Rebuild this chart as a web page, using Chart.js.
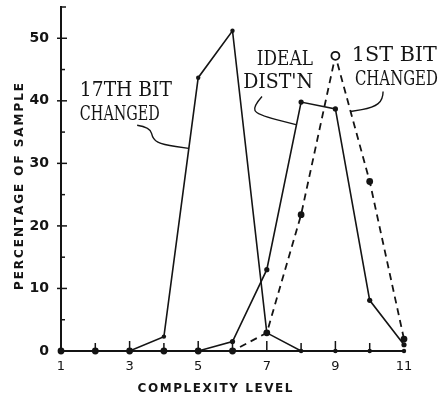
<!DOCTYPE html>
<html><head><meta charset="utf-8">
<script src="https://cdn.jsdelivr.net/npm/chart.js@4"></script>
<style>html,body{margin:0;padding:0;background:#fff;}canvas{display:block;}</style>
</head><body>
<canvas id="c" width="444" height="394"></canvas>
<script>
// ---- data ----
const levels = [1,2,3,4,5,6,7,8,9,10,11];
const bit17Changed = [0,0,0,2.3,43.7,51.2,2.9,0,0,0,0];
const idealDist   = [0,0,0,0,0,1.5,13,39.8,38.7,8.1,1];
const bit1Changed = [0,0,0,0,0,0,2.9,21.8,47.2,27.1,1.9];
const xTickLabels = [1,3,5,7,9,11];
const yTickLabels = [0,10,20,30,40,50];
const xTitle = 'COMPLEXITY LEVEL';
const yTitle = 'PERCENTAGE OF SAMPLE';
const notes = [
  {text:'17TH BIT', at:[1.55,40.7], w:92},
  {text:'CHANGED',  at:[1.55,37.0], w:80},
  {text:'IDEAL',    at:[6.71,45.8], w:56},
  {text:"DIST'N",   at:[6.31,42.1], w:70},
  {text:'1ST BIT',  at:[9.48,46.3], w:85},
  {text:'CHANGED',  at:[9.57,42.6], w:83}
];
const leaders = [
  [[3.22,36.1],[3.6,35.8],[3.68,33.8],[3.97,33.0],[4.72,32.4]],
  [[6.86,40.7],[6.6,39.1],[6.71,37.8],[7.85,36.2]],
  [[10.39,41.5],[10.39,40.2],[10.1,38.9],[9.44,38.3]]
];

const INK = '#141414';
const toPts = arr => levels.map((x,i)=>({x, y:arr[i]}));

const decor = {
  id:'decor',
  afterDatasetsDraw(chart){
    const ctx = chart.ctx, xs = chart.scales.x, ys = chart.scales.y, ca = chart.chartArea;
    const P = (x,y)=>[xs.getPixelForValue(x), ys.getPixelForValue(y)];
    ctx.save();
    ctx.strokeStyle = INK; ctx.fillStyle = INK;
    // y ticks every 5 (inward)
    ctx.lineWidth = 1.5;
    for (let v=5; v<=50; v+=5){
      const y = ys.getPixelForValue(v);
      const major = yTickLabels.includes(v);
      ctx.beginPath();
      ctx.moveTo(ca.left-(major?4:1), y);
      ctx.lineTo(ca.left+(major?6:4), y);
      ctx.stroke();
    }
    // x ticks every integer (upward)
    for (let v=2; v<=10; v++){
      const x = xs.getPixelForValue(v);
      ctx.beginPath();
      ctx.moveTo(x, ca.bottom+1);
      ctx.lineTo(x, ca.bottom-(v%2?10:8));
      ctx.stroke();
    }
    ctx.beginPath(); ctx.moveTo(ca.left-1, ca.top); ctx.lineTo(ca.left+5, ca.top); ctx.stroke();

    // annotations (typewriter-like serif, fitted to width)
    ctx.font = '19px "DejaVu Serif"';
    ctx.textBaseline = 'alphabetic'; ctx.textAlign = 'left';
    notes.forEach(n=>{
      const [x,y] = P(n.at[0], n.at[1]);
      const mw = ctx.measureText(n.text).width;
      ctx.save();
      ctx.translate(x, y);
      ctx.scale(n.w / mw, 1.05);
      ctx.fillText(n.text, 0, 0);
      ctx.restore();
    });
    // leader curves
    ctx.lineWidth = 1.4;
    leaders.forEach(pts=>{
      const p = pts.map(q=>P(q[0],q[1]));
      ctx.beginPath();
      ctx.moveTo(p[0][0], p[0][1]);
      for (let i=1;i<p.length-1;i++){
        const mx=(p[i][0]+p[i+1][0])/2, my=(p[i][1]+p[i+1][1])/2;
        ctx.quadraticCurveTo(p[i][0], p[i][1], mx, my);
      }
      const l = p[p.length-1];
      ctx.lineTo(l[0], l[1]);
      ctx.stroke();
    });

    // axis titles (fit to width with letter spacing)
    const drawSpaced = (text, cx, cy, width, font) => {
      ctx.font = font;
      const w = ctx.measureText(text).width;
      const sp = (width - w) / (text.length - 1);
      let x = cx - width/2;
      for (const ch of text){
        ctx.fillText(ch, x, cy);
        x += ctx.measureText(ch).width + sp;
      }
    };
    drawSpaced(xTitle, 215, 392, 155, 'bold 12px "DejaVu Sans"');
    ctx.save();
    ctx.translate(23, 187);
    ctx.rotate(-Math.PI/2);
    drawSpaced(yTitle, 0, 0, 206, 'bold 12px "DejaVu Sans"');
    ctx.restore();
    ctx.restore();
  }
};

new Chart(document.getElementById('c'), {
  type:'line',
  data:{
    datasets:[
      {label:'17th bit changed', data:toPts(bit17Changed), borderColor:INK, backgroundColor:INK,
       borderWidth:1.6, pointRadius:2.2, pointBorderWidth:0, tension:0},
      {label:"Ideal dist'n", data:toPts(idealDist), borderColor:INK, backgroundColor:INK,
       borderWidth:1.6, pointRadius:2.6, pointBorderWidth:0, tension:0},
      {label:'1st bit changed', data:toPts(bit1Changed), borderColor:INK, backgroundColor:INK,
       borderWidth:1.8, borderDash:[7,5],
       pointRadius: bit1Changed.map((v,i)=> i===8 ? 4 : 3.4),
       pointBackgroundColor: bit1Changed.map((v,i)=> i===8 ? '#fff' : INK),
       pointBorderColor: INK,
       pointBorderWidth: bit1Changed.map((v,i)=> i===8 ? 1.8 : 0), tension:0}
    ]
  },
  options:{
    responsive:false, animation:false, clip:false,
    layout:{padding:{top:7,right:40,left:0,bottom:0}},
    plugins:{legend:{display:false}, tooltip:{enabled:false}},
    scales:{
      x:{type:'linear', min:1, max:11,
         grid:{display:false, drawTicks:false}, border:{display:true, color:INK, width:2},
         ticks:{stepSize:1, autoSkip:false, maxRotation:0, padding:8, color:INK,
                font:{family:'DejaVu Sans', size:13},
                callback:v=> xTickLabels.includes(v) ? String(v) : ''},
         afterFit:s=>{ s.height = 43; s.paddingLeft = 0; s.paddingRight = 0; }},
      y:{min:0, max:55,
         grid:{display:false, drawTicks:false}, border:{display:true, color:INK, width:2},
         ticks:{stepSize:5, autoSkip:false, padding:12, color:INK,
                font:{family:'DejaVu Sans', size:14, weight:'bold'},
                callback:v=> yTickLabels.includes(v) ? String(v) : ''},
         afterFit:s=>{ s.width = 61; s.paddingTop = 0; s.paddingBottom = 0; }}
    }
  },
  plugins:[decor]
});
</script>
</body></html>
